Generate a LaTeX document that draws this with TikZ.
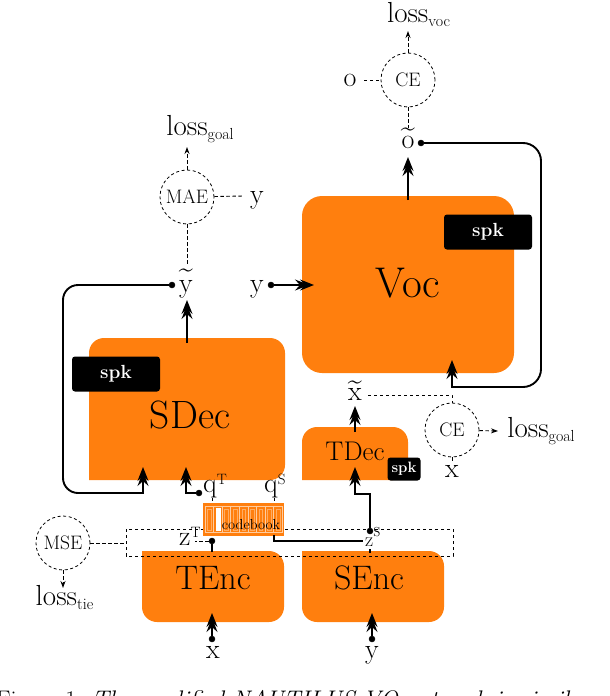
\documentclass[tikz,border=0pt]{standalone}
\usepackage{xcolor}
\usetikzlibrary{arrows.meta,backgrounds}
\definecolor{blockorange}{HTML}{FF7F0E}
\tikzstyle{block}=[
  fill=blockorange
]
\tikzstyle{blocklabel}=[
  inner sep=0pt,text=black
]
\tikzstyle{spkbox}=[
  fill=black,text=white,rounded corners=3pt,inner sep=0pt
]
\tikzstyle{lossnode}=[
  draw,circle,line width=0.8pt,inner sep=0pt,minimum size=54pt,
  font=\fontsize{19.5}{20}\selectfont,dash pattern=on 3pt off 2.6pt
]
\tikzstyle{varlabel}=[
  inner sep=0pt,anchor=base,font=\fontsize{28}{28}\selectfont
]
\tikzstyle{losslabel}=[
  inner sep=0pt,anchor=base,font=\fontsize{29}{29}\selectfont
]
\tikzstyle{srcdot}=[
  draw,circle,fill=black,inner sep=0pt,minimum size=6pt
]
\tikzstyle{mainedge}=[
  line width=1.9pt,-{Stealth[length=14pt,width=11pt,inset=5pt,sep=-9pt]Stealth[length=14pt,width=11pt,inset=5pt]}
]
\tikzstyle{plainedge}=[
  line width=1.9pt
]
\tikzstyle{lossedge}=[
  line width=0.9pt,dash pattern=on 3.4pt off 2.6pt
]
\tikzstyle{lossarrow}=[
  lossedge,-{Stealth[length=7pt,width=5pt]}
]
\newcommand{\losssub}[1]{loss{\fontsize{16}{16}\selectfont\raisebox{-4pt}{#1}}}
\newcommand{\varsup}[2]{#1{\fontsize{15}{15}\selectfont\raisebox{8pt}{#2}}}
\newcommand{\tildevar}[2]{\ooalign{#1\cr\hidewidth\raisebox{#2}{\scalebox{0.9}[1]{\~{}}}\hidewidth\cr}}
\begin{document}
\begin{tikzpicture}[x=1pt,y=-1pt]
    \useasboundingbox (0,0) rectangle (610,696);
    % blocks
    \fill [block] (302,373) [rounded corners=20pt] -- (302,196) -- (514,196) -- (514,373) -- cycle;
    \fill [block] (89,480) [rounded corners=15pt] -- (89,338) -- (285,338) -- (285,480) [sharp corners] -- cycle;
    \fill [block] (302,480) [rounded corners=15pt] -- (302,427) -- (408,427) -- (408,480) [sharp corners] -- cycle;
    \fill [block] (142,551) [rounded corners=15pt] -- (142,622) -- (284,622) -- (284,551) [sharp corners] -- cycle;
    \fill [block] (302,551) [rounded corners=15pt] -- (302,622) -- (444,622) -- (444,551) [sharp corners] -- cycle;
    \node (voc) at (408,283) [blocklabel,font=\fontsize{43}{43}\selectfont] {Voc};
    \node (sdec) at (190,415) [blocklabel,font=\fontsize{39.5}{40}\selectfont] {SDec};
    \node (tdec) at (355,451) [blocklabel,font=\fontsize{27}{27}\selectfont] {TDec};
    \node (tenc) at (213,578) [blocklabel,font=\fontsize{34}{34}\selectfont] {TEnc};
    \node (senc) at (369,578) [blocklabel,font=\fontsize{34}{34}\selectfont] {SEnc};
    \node (spkvoc) at (488,232) [spkbox,minimum width=88pt,minimum height=35pt,font=\fontsize{19}{19}\selectfont\bfseries] {spk};
    \node (spksdec) at (116,374) [spkbox,minimum width=88pt,minimum height=35pt,font=\fontsize{19}{19}\selectfont\bfseries] {spk};
    \node (spktdec) at (404,469) [spkbox,minimum width=33pt,minimum height=23pt,font=\fontsize{15}{15}\selectfont\bfseries] {spk};
    % variables
    \node (lossvoc) at (418.5,22) [losslabel] {\losssub{voc}};
    \node (ce1) at (408,80) [lossnode] {CE};
    \node (o) at (350,86) [varlabel] {o};
    \node (otilde) at (408,148) [varlabel] {\tildevar{o}{12pt}};
    \node (lossgoal1) at (200,135) [losslabel] {\losssub{goal}};
    \node (mae) at (187,197) [lossnode] {MAE};
    \node (y1) at (257,203) [varlabel] {y};
    \node (ytilde) at (186,292) [varlabel] {\tildevar{y}{15pt}};
    \node (y2) at (257,292) [varlabel] {y};
    \node (xtilde) at (355,400) [varlabel] {\tildevar{x}{11pt}};
    \node (ce2) at (452,430) [lossnode] {CE};
    \node (lossgoal2) at (541,437) [losslabel] {\losssub{goal}};
    \node (x1) at (452,477) [varlabel] {x};
    \node (mse) at (63,543) [lossnode] {MSE};
    \node (losstie) at (64.5,605) [losslabel] {\losssub{tie}};
    \node (qt) at (203,492) [varlabel,anchor=base west] {\varsup{q}{T}};
    \node (qs) at (264,492) [varlabel,anchor=base west] {\varsup{q}{S}};
    \node (zt) at (179,545) [varlabel,anchor=base west] {\varsup{z}{T}};
    \node (zs) at (365,546) [varlabel,anchor=base west,font=\fontsize{20}{20}\selectfont] {z{\fontsize{13}{13}\selectfont\raisebox{10pt}{S}}};
    \node (x2) at (213,658) [varlabel] {x};
    \node (y3) at (372,658) [varlabel] {y};
    % source dots
    \node (dotytilde) at (172,285) [srcdot] {};
    \node (doty) at (271,285) [srcdot] {};
    \node (dototilde) at (421,143) [srcdot] {};
    \node (dotqt) at (199,493) [srcdot] {};
    \node (dotzt) at (212,541) [srcdot] {};
    \node (dotzs) at (370,531) [srcdot] {};
    \node (dotx) at (212,639) [srcdot] {};
    \node (doty3) at (372,639) [srcdot] {};
    % free ends
    \coordinate (sdeclft) at (143,467);
    \coordinate (sdecmid) at (186,467);
    \coordinate (tdecin) at (355,467);
    \coordinate (tdecout) at (355,432);
    \coordinate (sdecout) at (187,343);
    \coordinate (vocout) at (408,200);
    \coordinate (vocin) at (314,285);
    \coordinate (vocloop) at (452,360);
    \coordinate (tencin) at (212,613);
    \coordinate (sencin) at (372,613);
    \coordinate (tenctop) at (212,552);
    \coordinate (cbq) at (274,535);
    \coordinate (zsleft) at (363,541);
    \coordinate (boxleft) at (126,543);
    \coordinate (tipytilde) at (187,300);
    \coordinate (tipotilde) at (408,157);
    \coordinate (tipxtilde) at (355,406);
    \coordinate (tipvoc) at (408,31);
    \coordinate (tipgoala) at (187,147);
    \coordinate (tipgoalb) at (498,431);
    \coordinate (tiptie) at (63,588);
    \coordinate (dashotilde) at (408,128);
    \coordinate (dashytilde) at (187,266);
    \coordinate (dasho) at (364,81);
    \coordinate (dashya) at (244,196);
    \coordinate (dashxa) at (452,461);
    \coordinate (dashxtilde) at (368,395);
    \coordinate (dashzt) at (195,541);
    % dashed frame round the codes
    \draw [lossedge] (126,529) rectangle (453,556);
    % codebook
    \node (codebook) at (243.5,519) [fill=blockorange,minimum width=81pt,minimum height=33pt,inner sep=0pt] {};
    \foreach \i in {0,...,8} {
      \draw [white!60!blockorange,line width=0.7pt] ({205+\i*8.6},506) rectangle ({213.6+\i*8.6},532);
      \draw [white!35!blockorange,line width=0.5pt] ({207.5+\i*8.6},509) rectangle ({211+\i*8.6},530);
    }
    \fill [white] (216,508) rectangle (221,531);
    \node (cblabel) at (251,525) [inner sep=0pt,font=\fontsize{14.5}{15}\selectfont] {codebook};
    % loss edges
    \draw [lossedge] (dotzt) -- (dashzt);
    \draw [lossedge] (212,498) -- (212,503);
    \draw [lossedge] (274,498) -- (274,503);
    \draw [lossarrow] (ce1) -- (tipvoc);
    \draw [lossedge] (ce1 -| dasho) -- (ce1);
    \draw [lossedge] (ce1) -- (dashotilde);
    \draw [lossarrow] (mae) -- (tipgoala);
    \draw [lossedge] (mae) -- (dashya);
    \draw [lossedge] (mae) -- (dashytilde);
    \draw [lossedge] (dashxtilde) -- (452,395) -- (ce2);
    \draw [lossarrow] (ce2) -- (tipgoalb);
    \draw [lossedge] (ce2) -- (dashxa);
    \draw [lossedge] (mse) -- (boxleft);
    \draw [lossarrow] (mse) -- (tiptie);
    % main edges
    \draw [mainedge,rounded corners=15pt] (dotytilde) -- (63,285) -- (63,493) [sharp corners] -- (143,493) -- (sdeclft);
    \draw [mainedge] (dotqt) -- (186,493) -- (sdecmid);
    \draw [mainedge] (sdecout) -- (tipytilde);
    \draw [mainedge] (doty) -- (vocin);
    \draw [mainedge] (vocout) -- (tipotilde);
    \draw [mainedge,rounded corners=18pt] (dototilde) -- (541,143) -- (541,387) [sharp corners] -- (452,387) -- (vocloop);
    \draw [mainedge] (tdecout) -- (tipxtilde);
    \draw [mainedge] (dotzs) -- (370,494) -- (355,494) -- (tdecin);
    \draw [plainedge] (tenctop) -- (dotzt);
    \draw [plainedge] (cbq) -- (274,541) -- (zsleft);
    \draw [plainedge] (370,549) -- (370,553);
    \draw [mainedge] (dotx) -- (tencin);
    \draw [mainedge] (doty3) -- (sencin);
    % caption, cut off by the page
    \begin{scope}
      \clip (0,660) rectangle (610,696);
      \node (caption) at (-4,707) [anchor=base west,inner sep=0pt,font=\fontsize{24}{24}\selectfont] {Figure 1: \textit{The modified NAUTILUS-VQ network is similar}};
    \end{scope}
  \end{tikzpicture}
\end{document}
